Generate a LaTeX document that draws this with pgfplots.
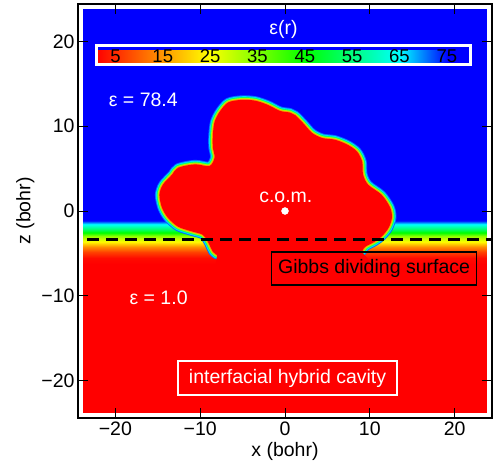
\documentclass[border=0pt]{standalone}
\usepackage{fontspec}
\setmainfont{Liberation Sans}
\usepackage{pgfplots}
\usepackage{pgfplotstable}
\pgfplotsset{compat=1.18}
\pgfplotsset{/pgf/number format/assume math mode=true}

\newcommand\bigf{\fontsize{19.5pt}{22pt}\selectfont}
\newcommand\smallf{\fontsize{18.5pt}{20pt}\selectfont}

% eps(z) profile of the planar interface (x from edge to edge)
\pgfplotstableread{
x z e
-23.8 -23.8 1
23.8 -23.8 1
-23.8 -6.2 1
23.8 -6.2 1
-23.8 -5.5 2
23.8 -5.5 2
-23.8 -4.8 7
23.8 -4.8 7
-23.8 -4.2 14
23.8 -4.2 14
-23.8 -3.6 24
23.8 -3.6 24
-23.8 -3.0 34
23.8 -3.0 34
-23.8 -2.6 44
23.8 -2.6 44
-23.8 -2.2 52
23.8 -2.2 52
-23.8 -1.7 63
23.8 -1.7 63
-23.8 -1.2 74
23.8 -1.2 74
-23.8 -0.7 78.4
23.8 -0.7 78.4
-23.8 23.8 78.4
23.8 23.8 78.4
}\band

% outline of the solute cavity (open, lower ends in the interface)
\pgfplotstableread{
x z
-8.0 -5.2
-8.5 -4.8
-9.1 -3.6
-9.7 -2.8
-11.0 -2.4
-12.6 -1.85
-13.8 -0.8
-14.5 0.4
-14.8 1.9
-14.4 3.1
-13.3 4.3
-12.6 5.1
-10.6 5.5
-8.9 5.3
-8.3 6.3
-8.5 7.5
-8.5 9.0
-8.3 10.5
-7.7 11.7
-6.7 12.8
-5.1 13.1
-3.5 13.0
-2.0 12.5
-0.6 11.8
0.6 11.6
1.2 11.3
2.1 10.4
3.2 9.2
4.4 8.6
5.9 8.4
7.4 7.8
8.5 7.0
9.1 5.8
9.2 4.3
9.8 3.1
11.4 1.9
12.4 0.4
12.6 -0.8
12.2 -2.0
11.4 -3.0
10.6 -3.6
9.5 -4.2
9.1 -4.8
}\blob

\pgfplotstableread{
x z
-8.0 -5.2
-8.5 -4.8
-9.1 -3.6
-9.7 -2.8
-11.0 -2.4
-12.6 -1.85
-13.8 -0.8
-14.5 0.4
-14.8 1.9
-14.4 3.1
-13.3 4.3
-12.6 5.1
-10.6 5.5
-8.9 5.3
-8.3 6.3
-8.5 7.5
-8.5 9.0
-8.3 10.5
-7.7 11.7
-6.7 12.8
-5.1 13.1
-3.5 13.0
-2.0 12.5
-0.6 11.8
0.6 11.6
1.2 11.3
2.1 10.4
3.2 9.2
4.4 8.6
5.9 8.4
7.4 7.8
8.5 7.0
9.1 5.8
9.2 4.3
9.8 3.1
11.4 1.9
12.4 0.4
12.6 -0.8
12.2 -2.0
11.4 -3.0
10.6 -3.6
9.5 -4.2
9.1 -4.8
8.8 -6.5
-8.2 -6.5
}\blobfill

\pgfplotsset{rim/.style={line join=round, line cap=round, smooth, tension=0.5}}

\begin{document}
\begin{tikzpicture}
\useasboundingbox (0,0) rectangle (498pt,472pt);
\begin{axis}[
  at={(78pt,54pt)}, anchor=south west,
  scale only axis, width=414pt, height=414pt,
  xmin=-24.4, xmax=24.4, ymin=-24.4, ymax=24.4,
  xtick={-20,-10,0,10,20}, xticklabels={−20,−10,0,10,20},
  ytick={-20,-10,0,10,20}, yticklabels={−20,−10,0,10,20},
  xtick pos=both, ytick pos=both, xticklabel pos=lower, yticklabel pos=left,
  tick align=inside,
  major tick length=10pt, tick style={black, line width=0.9pt},
  axis line style={line width=2.5pt},
  xlabel={x (bohr)}, ylabel={z (bohr)},
  label style={font=\bigf},
  tick label style={font=\bigf},
  colormap={eps}{rgb255(0cm)=(255,0,0); rgb255(30cm)=(255,255,0); rgb255(56cm)=(0,255,0); rgb255(81cm)=(0,255,255); rgb255(94cm)=(0,0,255); rgb255(100cm)=(0,0,255)},
  point meta min=1, point meta max=80,
  colorbar horizontal,
  colorbar style={
    at={(parent axis.north)}, anchor=north, yshift=-33pt, xshift=-1.5pt,
    width=374pt, height=19pt,
    xtick={5,15,...,75},
    xticklabel={\smallf\pgfmathprintnumber{\tick}},
    major tick length=0pt,
    xticklabel style={anchor=center, yshift=8pt, text=black},
    axis line style={white, line width=2.5pt},
    title={ε(r)}, title style={white, font=\bigf, yshift=-3pt},
  },
  axis on top,
]
\addplot[surf, shader=interp, mesh/cols=2, point meta=explicit]
  table[x=x, y=z, meta=e] {\band};
\addplot[rim, draw={rgb,255:red,0;green,110;blue,255}, line width=9pt] table[x=x, y=z] {\blob};
\addplot[rim, draw={rgb,255:red,0;green,220;blue,255}, line width=7.2pt] table[x=x, y=z] {\blob};
\addplot[rim, draw={rgb,255:red,0;green,255;blue,110}, line width=5.4pt] table[x=x, y=z] {\blob};
\addplot[rim, draw={rgb,255:red,170;green,255;blue,0}, line width=3.6pt] table[x=x, y=z] {\blob};
\addplot[rim, draw={rgb,255:red,255;green,150;blue,0}, line width=1.8pt] table[x=x, y=z] {\blob};
\addplot[smooth, tension=0.5, fill=red, draw=none] table[x=x, y=z] {\blobfill};
\addplot[black, line width=3pt, dash pattern=on 12pt off 7pt] coordinates {(-23.3,-3.4) (24.4,-3.4)};
\addplot[only marks, mark=*, mark size=3.5pt, white] coordinates {(0,0)};
\node[white, font=\bigf] at (axis cs:-16.7,13.1) {ε = 78.4};
\node[white, font=\bigf] at (axis cs:-14.9,-10.2) {ε = 1.0};
\node[white, font=\bigf] at (axis cs:0.1,1.6) {c.o.m.};
\node[draw=black, line width=1.6pt, font=\bigf, minimum width=205pt, minimum height=33pt, inner sep=0pt] at (axis cs:10.5,-6.75) {Gibbs dividing surface};
\node[draw=white, line width=1.6pt, white, font=\bigf, minimum width=219pt, minimum height=34pt, inner sep=0pt] at (axis cs:0.3,-19.7) {interfacial hybrid cavity};
\end{axis}
\end{tikzpicture}
\end{document}
